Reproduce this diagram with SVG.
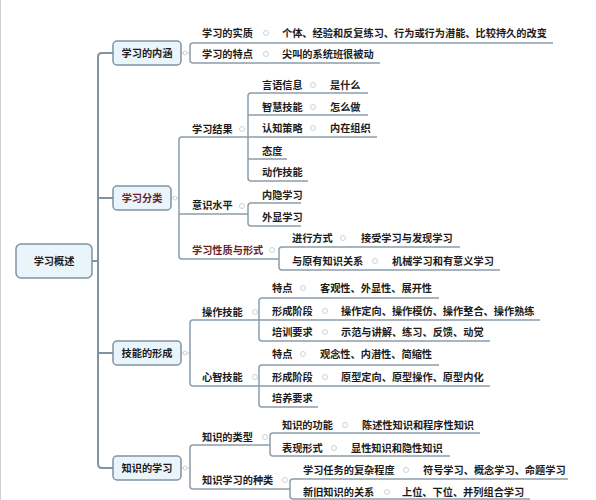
<svg xmlns="http://www.w3.org/2000/svg" width="596" height="500" viewBox="0 0 596 500">
<style>
text{font-family:"Noto Sans CJK SC","Liberation Sans",sans-serif;font-size:10.2px;font-weight:700;fill:#1c1c1c}
.c{text-anchor:middle}
.m{fill:#6a1f2b}
.box{fill:#eaf5fb;stroke:#7f93a3;stroke-width:1.5}
.trunk{fill:none;stroke:#7f93a3;stroke-width:2}
.ul{fill:none;stroke:#8c9dab;stroke-width:1.5}
.cn{fill:none;stroke:#c9cfd4;stroke-width:1}
.dot{fill:#fff;stroke:#cdd2d6;stroke-width:1}
</style>
<rect x="0" y="0" width="596" height="500" fill="#fff"/>
<line x1="0.5" y1="0" x2="0.5" y2="500" stroke="#cfcfcf" stroke-width="1"/>
<g id="connectors">
<path class="trunk" d="M92 261H98M113 53H102Q98 53 98 57V464Q98 468 102 468H113M98 198H113M98 353H113"/>
<path class="cn" d="M181 53H190M171 198H179M181 353H190M181 468H190"/>
<circle class="dot" cx="185" cy="53" r="2"/>
<circle class="dot" cx="175" cy="198" r="2"/>
<circle class="dot" cx="185" cy="353" r="2"/>
<circle class="dot" cx="185" cy="468" r="2"/>
<path class="ul" d="M553 43H193Q190 43 190 46V60Q190 63 193 63H380"/>
<path class="ul" d="M248 137H182Q179 137 179 140V256Q179 259 182 259H279M179 214H248"/>
<path class="ul" d="M368 93H251Q248 93 248 96V178Q248 181 251 181H308M248 115H368M248 137H377M248 159H287"/>
<path class="ul" d="M301 203H251Q248 203 248 206V223Q248 226 251 226H301"/>
<path class="ul" d="M460 247H282Q279 247 279 250V267Q279 270 282 270H500"/>
<path class="ul" d="M259 320H193Q190 320 190 323V383Q190 386 193 386H259"/>
<path class="ul" d="M439 298H262Q259 298 259 301V338Q259 341 262 341H490M259 320H540"/>
<path class="ul" d="M439 365H262Q259 365 259 368V404Q259 407 262 407H318M259 386H490"/>
<path class="ul" d="M270 445H193Q190 445 190 448V486Q190 489 193 489H290"/>
<path class="ul" d="M480 433H273Q270 433 270 436V453Q270 456 273 456H450"/>
<path class="ul" d="M568 479H293Q290 479 290 482V496Q290 499 293 499H530"/>
</g>
<g id="root"><rect class="box" x="16" y="244" width="76" height="34" rx="5"/><text class="c" x="54" y="264.6">学习概述</text></g>
<g id="n1"><rect class="box" x="113" y="41" width="68" height="24" rx="4"/><text class="c" x="147" y="56.6">学习的内涵</text></g>
<g id="n1a"><text x="202" y="36.6">学习的实质</text><circle class="dot" cx="266" cy="33" r="2.5"/><text x="282" y="36.6">个体、经验和反复练习、行为或行为潜能、比较持久的改变</text></g>
<g id="n1b"><text x="202" y="57.6">学习的特点</text><circle class="dot" cx="266" cy="54" r="2.5"/><text x="282" y="57.6">尖叫的系统班很被动</text></g>
<g id="n2"><rect class="box" x="113" y="186" width="58" height="24" rx="4"/><text class="c m" x="142" y="201.6">学习分类</text></g>
<g id="n2a"><text x="192" y="132.6">学习结果</text><circle class="dot" cx="242" cy="129" r="2.5"/></g>
<g id="n2a1"><text x="262" y="88.6">言语信息</text><circle class="dot" cx="313" cy="85" r="2.5"/><text x="330" y="88.6">是什么</text></g>
<g id="n2a2"><text x="262" y="110.6">智慧技能</text><circle class="dot" cx="313" cy="107" r="2.5"/><text x="330" y="110.6">怎么做</text></g>
<g id="n2a3"><text x="262" y="131.6">认知策略</text><circle class="dot" cx="313" cy="128" r="2.5"/><text x="330" y="131.6">内在组织</text></g>
<g id="n2a4"><text x="262" y="154.6">态度</text></g>
<g id="n2a5"><text x="262" y="175.6">动作技能</text></g>
<g id="n2b"><text x="192" y="208.6">意识水平</text><circle class="dot" cx="242" cy="206" r="2.5"/></g>
<g id="n2b1"><text x="262" y="198.6">内隐学习</text></g>
<g id="n2b2"><text x="262" y="220.6">外显学习</text></g>
<g id="n2c"><text class="m" x="192" y="253.6">学习性质与形式</text><circle class="dot" cx="272" cy="250" r="2.5"/></g>
<g id="n2c1"><text x="292" y="241.6">进行方式</text><circle class="dot" cx="343" cy="238" r="2.5"/><text x="361" y="241.6">接受学习与发现学习</text></g>
<g id="n2c2"><text x="292" y="264.6">与原有知识关系</text><circle class="dot" cx="375" cy="261" r="2.5"/><text x="392" y="264.6">机械学习和有意义学习</text></g>
<g id="n3"><rect class="box" x="113" y="341" width="68" height="24" rx="4"/><text class="c" x="147" y="356.6">技能的形成</text></g>
<g id="n3a"><text x="202" y="315.6">操作技能</text><circle class="dot" cx="255" cy="312" r="2.5"/></g>
<g id="n3a1"><text x="272" y="291.6">特点</text><circle class="dot" cx="303" cy="288" r="2.5"/><text x="320" y="291.6">客观性、外显性、展开性</text></g>
<g id="n3a2"><text x="272" y="314.6">形成阶段</text><circle class="dot" cx="325" cy="311" r="2.5"/><text x="341" y="314.6">操作定向、操作模仿、操作整合、操作熟练</text></g>
<g id="n3a3"><text x="272" y="335.6">培训要求</text><circle class="dot" cx="325" cy="332" r="2.5"/><text x="341" y="335.6">示范与讲解、练习、反馈、动觉</text></g>
<g id="n3b"><text x="202" y="380.6">心智技能</text><circle class="dot" cx="255" cy="377" r="2.5"/></g>
<g id="n3b1"><text x="272" y="357.6">特点</text><circle class="dot" cx="303" cy="354" r="2.5"/><text x="320" y="357.6">观念性、内潜性、简缩性</text></g>
<g id="n3b2"><text x="272" y="380.6">形成阶段</text><circle class="dot" cx="325" cy="377" r="2.5"/><text x="341" y="380.6">原型定向、原型操作、原型内化</text></g>
<g id="n3b3"><text x="272" y="401.6">培养要求</text></g>
<g id="n4"><rect class="box" x="113" y="456" width="68" height="24" rx="4"/><text class="c" x="147" y="471.6">知识的学习</text></g>
<g id="n4a"><text x="202" y="440.6">知识的类型</text><circle class="dot" cx="265" cy="437" r="2.5"/></g>
<g id="n4a1"><text x="282" y="428.6">知识的功能</text><circle class="dot" cx="345" cy="425" r="2.5"/><text x="362" y="428.6">陈述性知识和程序性知识</text></g>
<g id="n4a2"><text x="282" y="451.6">表现形式</text><circle class="dot" cx="334" cy="448" r="2.5"/><text x="351" y="451.6">显性知识和隐性知识</text></g>
<g id="n4b"><text x="202" y="483.6">知识学习的种类</text><circle class="dot" cx="285" cy="480" r="2.5"/></g>
<g id="n4b1"><text x="303" y="473.6">学习任务的复杂程度</text><circle class="dot" cx="406" cy="470" r="2.5"/><text x="423" y="473.6">符号学习、概念学习、命题学习</text></g>
<g id="n4b2"><text x="303" y="495.6">新旧知识的关系</text><circle class="dot" cx="387" cy="492" r="2.5"/><text x="402" y="495.6">上位、下位、并列组合学习</text></g>
</svg>
